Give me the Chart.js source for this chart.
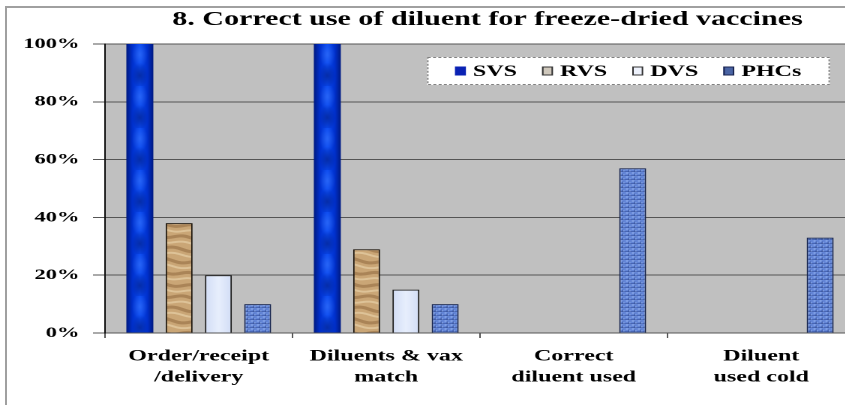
<!DOCTYPE html>
<html><head><meta charset="utf-8">
<script src="https://cdn.jsdelivr.net/npm/chart.js@4.4.1/dist/chart.umd.min.js"></script>
<style>
html,body{margin:0;padding:0;background:#fff;}
#wrap{position:relative;width:845px;height:405px;overflow:hidden;background:#fff;}
#stretch{position:absolute;left:0;top:0;width:570px;height:405px;transform:scaleX(1.5);transform-origin:0 0;}
#frame{position:absolute;left:5px;top:6px;right:-10px;bottom:-10px;border-left:2px solid #a0a0a0;border-top:2px solid #a0a0a0;pointer-events:none;}
</style></head><body>
<div id="wrap"><div id="stretch"><canvas id="c" width="570" height="405"></canvas></div><div id="frame"></div></div>
<script>
// ---- data ----
const titleText = '8. Correct use of diluent for freeze-dried vaccines';
const categories = [['Order/receipt','/delivery'],['Diluents & vax','match'],['Correct','diluent used'],['Diluent','used cold']];
const seriesNames = ['SVS','RVS','DVS','PHCs'];
const svs  = [100, 100, 0, 0];
const rvs  = [38, 29, 0, 0];
const dvs  = [20, 15, 0, 0];
const phcs = [10, 10, 57, 33];
const yTicks = [0, 20, 40, 60, 80, 100];

// ---- texture tiles (style only) ----
const S = 2;
function svsTile(w){
  const c = document.createElement('canvas');
  c.width = Math.max(4, Math.round(w*S)); c.height = 84;
  const g = c.getContext('2d');
  const lg = g.createLinearGradient(0,0,c.width,0);
  lg.addColorStop(0,'#001a80'); lg.addColorStop(0.22,'#0030cc');
  lg.addColorStop(0.5,'#0a4af2'); lg.addColorStop(0.78,'#0030cc'); lg.addColorStop(1,'#001a80');
  g.fillStyle = lg; g.fillRect(0,0,c.width,c.height);
  const cx = c.width/2;
  g.save(); g.translate(cx,21); g.scale(1,2.4);
  let rg = g.createRadialGradient(0,0,0,0,0,c.width*0.3);
  rg.addColorStop(0,'rgba(70,130,255,0.5)'); rg.addColorStop(1,'rgba(70,130,255,0)');
  g.fillStyle = rg; g.fillRect(-c.width,-20,c.width*2,40); g.restore();
  g.save(); g.translate(cx,63); g.scale(1,2.4);
  rg = g.createRadialGradient(0,0,0,0,0,c.width*0.3);
  rg.addColorStop(0,'rgba(0,10,80,0.45)'); rg.addColorStop(1,'rgba(0,10,80,0)');
  g.fillStyle = rg; g.fillRect(-c.width,-20,c.width*2,40); g.restore();
  return c;
}
function woodTile(){
  const c = document.createElement('canvas'); c.width = 48; c.height = 120;
  const g = c.getContext('2d');
  g.fillStyle = '#caa676'; g.fillRect(0,0,48,120);
  const streak = (k, off, col, lw, amp) => {
    g.strokeStyle = col; g.lineWidth = lw;
    for (const dy of [0, 120, -120]){
      g.beginPath();
      for (let x=0;x<=48;x+=2){
        const y = k*24 + off + dy + amp*Math.sin(x/48*2*Math.PI + k*1.7) + 0.5*x/4;
        x===0 ? g.moveTo(x,y) : g.lineTo(x,y);
      }
      g.stroke();
    }
  };
  for (let k=0;k<5;k++){
    streak(k, 0, 'rgba(130,92,52,0.45)', 6, 3);
    streak(k, 11, 'rgba(238,218,180,0.55)', 4, 2.5);
  }
  return c;
}
function mosaicTile(){
  const c = document.createElement('canvas'); c.width = 8; c.height = 8;
  const g = c.getContext('2d');
  g.fillStyle = '#6385d6'; g.fillRect(0,0,8,8);
  g.fillStyle = '#9ab8f2'; g.fillRect(1,1,3,2); g.fillRect(5,5,2,2);
  g.fillStyle = '#2c4690'; g.fillRect(0,7,8,1); g.fillRect(4,3,1,4);
  return c;
}
function dvsTile(w){
  const c = document.createElement('canvas');
  c.width = Math.max(4, Math.round(w*S)); c.height = 8;
  const g = c.getContext('2d');
  const lg = g.createLinearGradient(0,0,c.width,0);
  lg.addColorStop(0,'#d2ddf6'); lg.addColorStop(0.5,'#e8effd'); lg.addColorStop(1,'#d2ddf6');
  g.fillStyle = lg; g.fillRect(0,0,c.width,8);
  return c;
}
const skins = [svsTile, woodTile, dvsTile, mosaicTile];

const bgPlugin = {
  id: 'plotBg',
  beforeDraw(chart){
    const {ctx, chartArea:a} = chart;
    ctx.save(); ctx.fillStyle = '#c0c0c0';
    ctx.fillRect(a.left, a.top, a.right-a.left, a.bottom-a.top); ctx.restore();
  },
  afterLayout(chart){
    const t = chart.titleBlock;
    if (t){ t.left += 40; t.right += 40; }
  }
};

const skinPlugin = {
  id: 'barSkins',
  beforeDatasetsDraw(chart){
    const ctx = chart.ctx;
    chart.data.datasets.forEach((ds, i) => {
      const make = skins[i];
      chart.getDatasetMeta(i).data.forEach(el => {
        const {x, width} = el.getProps(['x','width'], true);
        const tile = make(width);
        const pat = ctx.createPattern(tile, 'repeat');
        pat.setTransform(new DOMMatrix().translate(x - width/2, chart.chartArea.top).scale(1/S));
        el.options = Object.assign({}, el.options, {backgroundColor: pat});
      });
    });
  }
};

const legendPlugin = {
  id: 'boxLegend',
  afterDatasetsDraw(chart){
    const ctx = chart.ctx;
    const box = {l: 284.7, t: 57, r: 553.3, b: 85};
    ctx.save();
    ctx.fillStyle = '#ffffff';
    ctx.fillRect(box.l, box.t, box.r-box.l, box.b-box.t);
    ctx.setLineDash([2,1.5]); ctx.strokeStyle = '#808080'; ctx.lineWidth = 1;
    ctx.strokeRect(box.l+0.5, box.t+0.5, box.r-box.l-1, box.b-box.t-1);
    ctx.setLineDash([]);
    ctx.font = 'bold 16px "Liberation Serif", "Times New Roman", serif';
    ctx.textBaseline = 'middle'; ctx.textAlign = 'left';
    const cy = (box.t+box.b)/2;
    let x = 303.3;
    chart.data.datasets.forEach(ds => {
      const sw = ds.swatch;
      ctx.fillStyle = sw.fill;
      ctx.fillRect(x, cy-4.5, 7.3, 9);
      if (sw.stroke){ ctx.strokeStyle = sw.stroke; ctx.lineWidth = 1; ctx.strokeRect(x+0.5, cy-4, 6.3, 8); }
      x += 7.3 + 4.7;
      ctx.fillStyle = '#000';
      ctx.fillText(ds.label, x, cy+1);
      x += ctx.measureText(ds.label).width + 16.7;
    });
    ctx.restore();
  }
};

const serif = '"Liberation Serif", "Times New Roman", serif';
const bw = c => (c.raw > 0 ? 1 : 0);

new Chart(document.getElementById('c'), {
  type: 'bar',
  data: {
    labels: categories,
    datasets: [
      {label: seriesNames[0], data: svs,  backgroundColor: '#0a2cc8', borderWidth: 0, swatch: {fill:'#0a22b4', stroke:null}},
      {label: seriesNames[1], data: rvs,  backgroundColor: '#c9a271', borderColor: '#1a1208', borderWidth: bw, swatch: {fill:'#cfc8bc', stroke:'#333'}},
      {label: seriesNames[2], data: dvs,  backgroundColor: '#dde6fa', borderColor: '#202020', borderWidth: bw, swatch: {fill:'#eef2fc', stroke:'#333'}},
      {label: seriesNames[3], data: phcs, backgroundColor: '#6c8fde', borderColor: '#182650', borderWidth: bw, swatch: {fill:'#4a64a4', stroke:'#1a2450'}}
    ]
  },
  options: {
    responsive: false,
    animation: false,
    devicePixelRatio: 2,
    events: [],
    layout: {padding: 0},
    datasets: {bar: {categoryPercentage: 0.838, barPercentage: 0.687, borderSkipped: 'start'}},
    plugins: {
      legend: {display: false},
      tooltip: {enabled: false},
      title: {
        display: true, text: titleText, color: '#000',
        font: {family: serif, size: 20, weight: 'bold', lineHeight: 1.2},
        padding: {top: 8, bottom: 12}
      }
    },
    scales: {
      x: {
        grid: {display: true, drawOnChartArea: false, drawTicks: true, tickLength: 5, color: '#555', offset: true},
        border: {display: true, color: '#555', width: 1},
        ticks: {color: '#000', padding: 8, maxRotation: 0, autoSkip: false,
          font: {family: serif, size: 16, weight: 'bold', lineHeight: 1.3}},
        afterFit(axis){ axis.height = 72; }
      },
      y: {
        min: 0, max: 100,
        afterBuildTicks(axis){ axis.ticks = yTicks.map(v => ({value: v})); },
        grid: {color: '#555', lineWidth: 1, tickLength: 8, drawTicks: true},
        border: {display: true, color: '#111', width: 1},
        ticks: {color: '#000', padding: 9, callback: v => v + '%',
          font: {family: serif, size: 15, weight: 'bold'}},
        afterFit(axis){ axis.width = 70; }
      }
    }
  },
  plugins: [bgPlugin, skinPlugin, legendPlugin]
});
</script>
</body></html>
